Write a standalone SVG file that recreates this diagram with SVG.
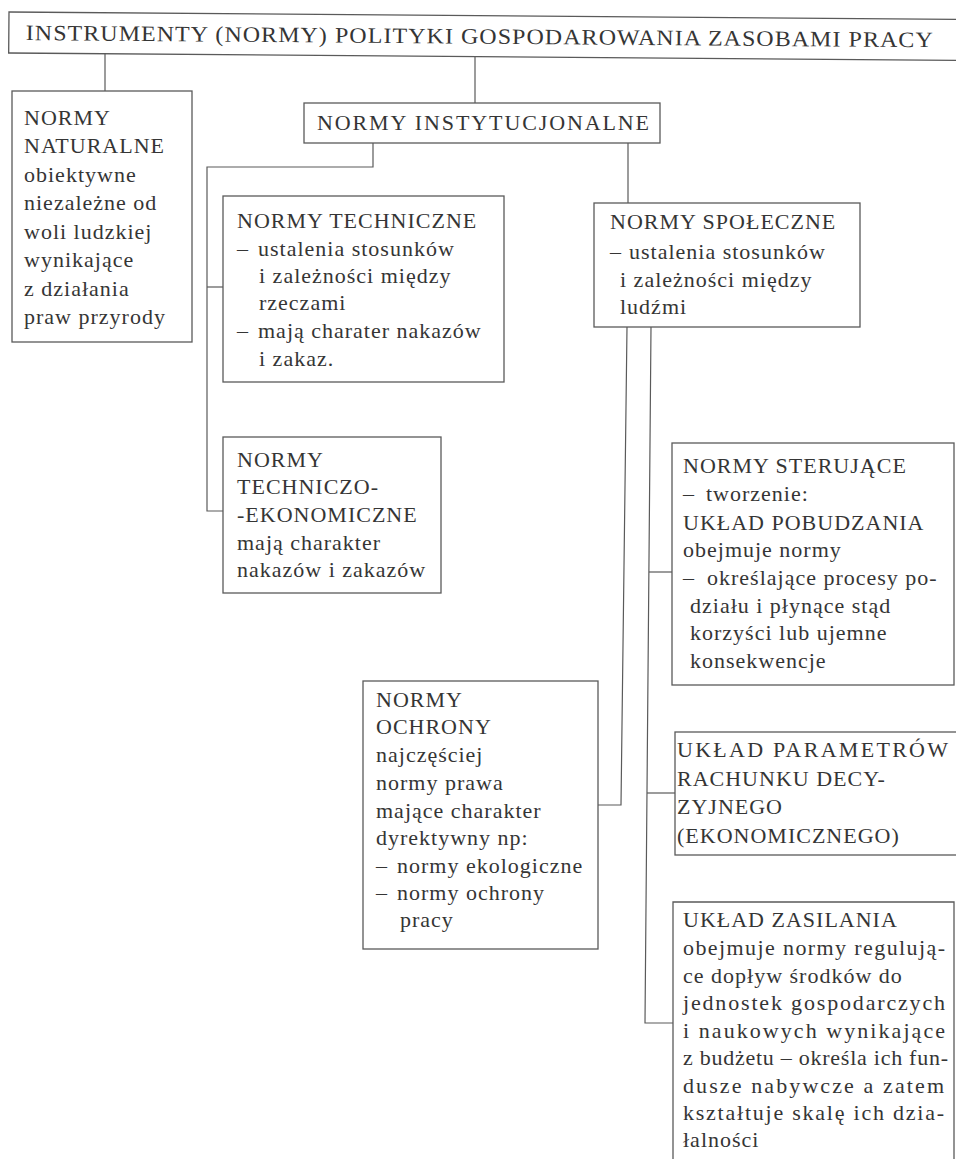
<svg xmlns="http://www.w3.org/2000/svg" width="956" height="1159" viewBox="0 0 956 1159">
<style>
text { font-family: "Liberation Serif", "Times New Roman", serif; font-size: 22px; letter-spacing: 1px; fill: #353535; }
.box { fill: none; stroke: #5a5a5a; stroke-width: 1.3; }
.con { fill: none; stroke: #5a5a5a; stroke-width: 1.2; }
</style>
<rect x="0" y="0" width="956" height="1159" fill="#ffffff"/>

<g id="connectors">
  <path class="con" d="M105,54 V91"/>
  <path class="con" d="M475,57 V103"/>
  <path class="con" d="M373,143 V167 H207 V511 H223"/>
  <path class="con" d="M207,287 H223"/>
  <path class="con" d="M628,143 V203"/>
  <path class="con" d="M627,327 L621,805 H598"/>
  <path class="con" d="M651,327 L645,1023 H673"/>
  <path class="con" d="M649,572 H672"/>
  <path class="con" d="M647,793 H675"/>
</g>

<g id="root" transform="rotate(0.45 10 12)">
  <rect class="box" x="9" y="12" width="953" height="41"/>
  <text x="26" y="40" font-size="21" letter-spacing="0" textLength="908" lengthAdjust="spacingAndGlyphs">INSTRUMENTY (NORMY) POLITYKI GOSPODAROWANIA ZASOBAMI PRACY</text>
</g>

<g id="naturalne">
  <rect class="box" x="12" y="91" width="180" height="251"/>
  <text x="24" y="125">NORMY</text>
  <text x="24" y="153">NATURALNE</text>
  <text x="24" y="182">obiektywne</text>
  <text x="24" y="210">niezależne od</text>
  <text x="24" y="239">woli ludzkiej</text>
  <text x="24" y="267">wynikające</text>
  <text x="24" y="296">z działania</text>
  <text x="24" y="324">praw przyrody</text>
</g>

<g id="instytucjonalne">
  <rect class="box" x="304" y="103" width="356" height="40"/>
  <text x="317" y="130" letter-spacing="0" textLength="333">NORMY INSTYTUCJONALNE</text>
</g>

<g id="techniczne">
  <rect class="box" x="223" y="196" width="281" height="186"/>
  <text x="237" y="228">NORMY TECHNICZNE</text>
  <text x="237" y="256">–</text>
  <text x="258" y="256">ustalenia stosunków</text>
  <text x="259" y="283">i zależności między</text>
  <text x="259" y="310">rzeczami</text>
  <text x="237" y="338">–</text>
  <text x="258" y="338">mają charater nakazów</text>
  <text x="259" y="366">i zakaz.</text>
</g>

<g id="spoleczne">
  <rect class="box" x="594" y="203" width="266" height="124"/>
  <text x="610" y="229">NORMY SPOŁECZNE</text>
  <text x="610" y="259">–</text>
  <text x="629" y="259">ustalenia stosunków</text>
  <text x="620" y="287">i zależności między</text>
  <text x="620" y="314">ludźmi</text>
</g>

<g id="techniczno-ekonomiczne">
  <rect class="box" x="223" y="437" width="218" height="156"/>
  <text x="237" y="467">NORMY</text>
  <text x="237" y="494">TECHNICZO-</text>
  <text x="237" y="522">-EKONOMICZNE</text>
  <text x="237" y="550">mają charakter</text>
  <text x="237" y="577">nakazów i zakazów</text>
</g>

<g id="sterujace">
  <rect class="box" x="672" y="443" width="282" height="242"/>
  <text x="683" y="473">NORMY STERUJĄCE</text>
  <text x="683" y="501">–</text>
  <text x="706" y="501">tworzenie:</text>
  <text x="683" y="530">UKŁAD POBUDZANIA</text>
  <text x="683" y="557">obejmuje normy</text>
  <text x="683" y="585">–</text>
  <text x="707" y="585">określające procesy po-</text>
  <text x="690" y="613">działu i płynące stąd</text>
  <text x="690" y="640">korzyści lub ujemne</text>
  <text x="690" y="668">konsekwencje</text>
</g>

<g id="ochrony">
  <rect class="box" x="363" y="681" width="235" height="268"/>
  <text x="376" y="707">NORMY</text>
  <text x="376" y="734">OCHRONY</text>
  <text x="376" y="762">najczęściej</text>
  <text x="376" y="790">normy prawa</text>
  <text x="376" y="818">mające charakter</text>
  <text x="376" y="845">dyrektywny np:</text>
  <text x="376" y="873">–</text>
  <text x="397" y="873">normy ekologiczne</text>
  <text x="376" y="900">–</text>
  <text x="397" y="900">normy ochrony</text>
  <text x="400" y="927">pracy</text>
</g>

<g id="parametry">
  <rect class="box" x="675" y="732" width="282" height="123"/>
  <text x="677" y="757" textLength="272">UKŁAD PARAMETRÓW</text>
  <text x="677" y="786">RACHUNKU DECY-</text>
  <text x="677" y="814">ZYJNEGO</text>
  <text x="677" y="843">(EKONOMICZNEGO)</text>
</g>

<g id="zasilanie">
  <path class="box" d="M673,1165 V902 H954 V1165"/>
  <text x="683" y="927">UKŁAD ZASILANIA</text>
  <text x="683" y="955" textLength="263">obejmuje normy regulują-</text>
  <text x="683" y="983">ce dopływ środków do</text>
  <text x="683" y="1010" textLength="263">jednostek gospodarczych</text>
  <text x="683" y="1038" textLength="263">i naukowych wynikające</text>
  <text x="683" y="1065" textLength="266">z budżetu – określa ich fun-</text>
  <text x="683" y="1093" textLength="262">dusze nabywcze a zatem</text>
  <text x="683" y="1120" textLength="262">kształtuje skalę ich dzia-</text>
  <text x="683" y="1147">łalności</text>
</g>
</svg>
